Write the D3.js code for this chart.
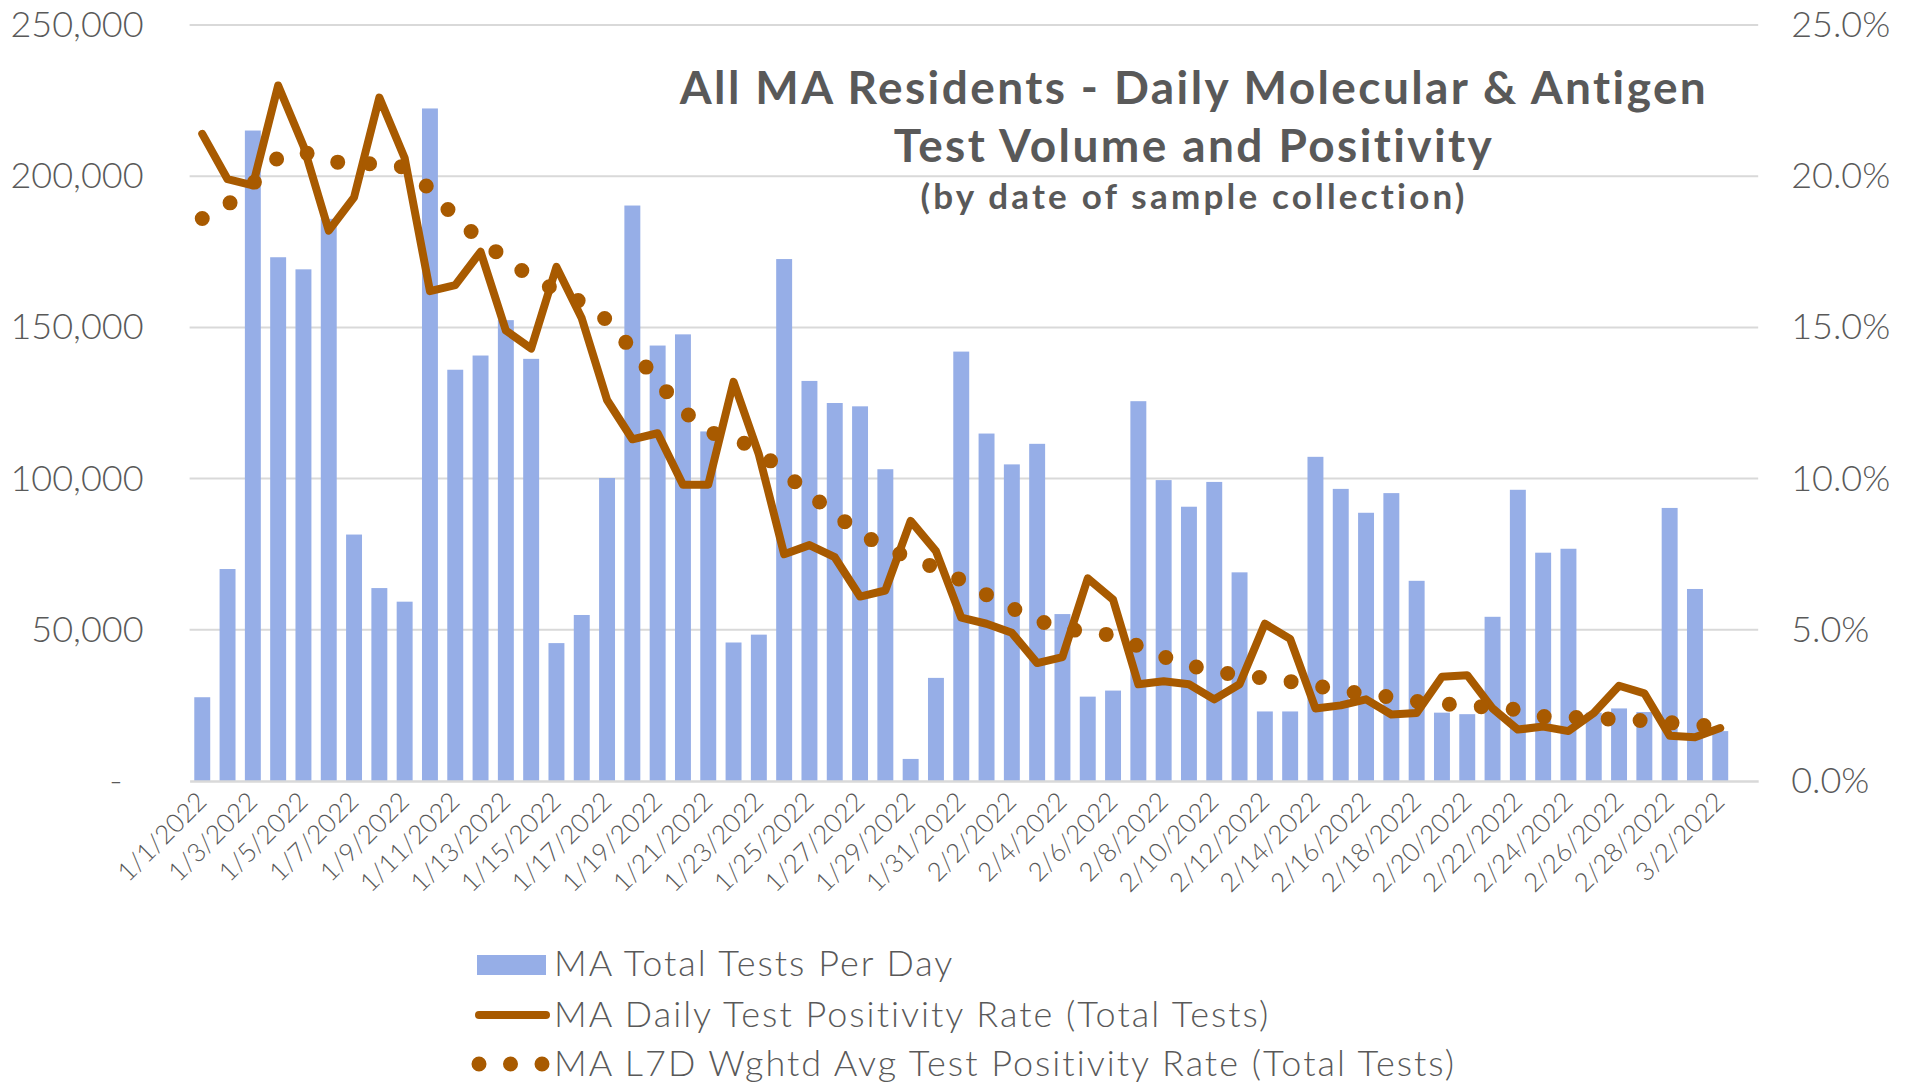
<!DOCTYPE html>
<html>
<head>
<meta charset="utf-8">
<script src="https://cdn.jsdelivr.net/npm/d3@7"></script>
<style>
  body { margin: 0; background: #fff; }
  svg { display: block; }
  text { font-family: Lato, "Open Sans", sans-serif; fill: #595959; }
</style>
</head>
<body>
<svg width="1915" height="1084"></svg>
<script>
const width = 1915
const height = 1084

// categories (the last day has no data, Excel leaves an empty slot for it)
const dates = [
  "1/1/2022", "1/2/2022", "1/3/2022", "1/4/2022", "1/5/2022", "1/6/2022", "1/7/2022", "1/8/2022",
  "1/9/2022", "1/10/2022", "1/11/2022", "1/12/2022", "1/13/2022", "1/14/2022", "1/15/2022", "1/16/2022",
  "1/17/2022", "1/18/2022", "1/19/2022", "1/20/2022", "1/21/2022", "1/22/2022", "1/23/2022", "1/24/2022",
  "1/25/2022", "1/26/2022", "1/27/2022", "1/28/2022", "1/29/2022", "1/30/2022", "1/31/2022",
  "2/1/2022", "2/2/2022", "2/3/2022", "2/4/2022", "2/5/2022", "2/6/2022", "2/7/2022", "2/8/2022",
  "2/9/2022", "2/10/2022", "2/11/2022", "2/12/2022", "2/13/2022", "2/14/2022", "2/15/2022", "2/16/2022",
  "2/17/2022", "2/18/2022", "2/19/2022", "2/20/2022", "2/21/2022", "2/22/2022", "2/23/2022", "2/24/2022",
  "2/25/2022", "2/26/2022", "2/27/2022", "2/28/2022", "3/1/2022", "3/2/2022", "3/3/2022"
]

// MA Total Tests Per Day
const testsPerDay = [
  27700, 70100, 215100, 173200, 169200, 185900, 81500, 63800, 59300, 222400,
  136000, 140700, 152400, 139600, 45600, 54900, 100200, 190300, 144000, 147700,
  115600, 45800, 48400, 172600, 132300, 125000, 123900, 103100, 7300, 34100,
  142000, 114900, 104700, 111500, 55200, 27900, 29900, 125600, 99500, 90700,
  98900, 69000, 23000, 23000, 107200, 96600, 88700, 95200, 66200, 22600,
  22100, 54300, 96300, 75500, 76800, 22600, 24000, 22800, 90300, 63500,
  16500
]

// MA Daily Test Positivity Rate (%)
const dailyPositivity = [
  21.4, 19.9, 19.7, 23.0, 21.0, 18.2, 19.3, 22.6, 20.6, 16.2,
  16.4, 17.5, 14.9, 14.3, 17.0, 15.3, 12.6, 11.3, 11.5, 9.8,
  9.8, 13.2, 10.8, 7.5, 7.8, 7.4, 6.1, 6.3, 8.6, 7.6,
  5.4, 5.2, 4.9, 3.9, 4.1, 6.7, 6.0, 3.2, 3.3, 3.2,
  2.7, 3.2, 5.2, 4.7, 2.4, 2.5, 2.7, 2.2, 2.25, 3.45,
  3.5, 2.4, 1.7, 1.8, 1.65, 2.25, 3.15, 2.9, 1.5, 1.45,
  1.75
]

// MA L7D Wghtd Avg Test Positivity Rate (%)
const l7dPositivity = [
  18.6, 19.05, 19.75, 20.62, 20.8, 20.5, 20.4, 20.42, 20.3, 19.57,
  18.63, 17.9, 17.25, 16.67, 16.22, 15.83, 15.24, 14.25, 13.21, 12.26,
  11.54, 11.34, 10.93, 10.19, 9.5, 8.82, 8.21, 7.7, 7.37, 7.05,
  6.64, 6.16, 5.72, 5.33, 5.0, 4.98, 4.8, 4.46, 4.11, 3.83,
  3.62, 3.5, 3.4, 3.29, 3.16, 2.98, 2.88, 2.77, 2.63, 2.56,
  2.48, 2.44, 2.36, 2.13, 2.11, 2.07, 2.04, 1.99, 1.93, 1.85,
  1.8
]

const leftTicks = [0, 50000, 100000, 150000, 200000, 250000]
const rightTicks = [0, 5, 10, 15, 20, 25]

const titleLines = ["All MA Residents - Daily Molecular & Antigen", "Test Volume and Positivity"]
const subtitle = "(by date of sample collection)"
const legendLabels = [
  "MA Total Tests Per Day",
  "MA Daily Test Positivity Rate (Total Tests)",
  "MA L7D Wghtd Avg Test Positivity Rate (Total Tests)"
]

const barColor = "#96aee7"
const lineColor = "#a85a00"
const gridColor = "#d9d9d9"

let plot = {left: 189.6, right: 1758.2, top: 25, bottom: 781}

let svg = d3.select("svg")

let x = d3.scaleBand()
  .domain(dates)
  .range([plot.left, plot.right])
  .paddingInner(0.37)
  .paddingOuter(0.185)

let yLeft = d3.scaleLinear().domain([0, 250000]).range([plot.bottom, plot.top])
let yRight = d3.scaleLinear().domain([0, 25]).range([plot.bottom, plot.top])

const cx = d => x(d) + x.bandwidth() / 2

// gridlines
svg.append("g")
  .selectAll("line")
  .data(leftTicks.slice(1))
  .enter()
  .append("line")
  .attr("x1", plot.left)
  .attr("x2", plot.right)
  .attr("y1", d => yLeft(d))
  .attr("y2", d => yLeft(d))
  .attr("stroke", gridColor)
  .attr("stroke-width", 2)

// left axis
let leftAxis = svg.append("g")
  .attr("transform", `translate(${plot.left},0)`)
  .call(d3.axisLeft(yLeft)
    .tickValues(leftTicks)
    .tickSize(0)
    .tickPadding(46)
    .tickFormat(d => d === 0 ? "-" : d3.format(",")(d)))
leftAxis.select(".domain").remove()
leftAxis.selectAll("text")
  .attr("font-size", "36px")
  .attr("font-weight", 300)
  .attr("dx", d => d === 0 ? -21 : 0)

// right axis
let rightAxis = svg.append("g")
  .attr("transform", `translate(${plot.right},0)`)
  .call(d3.axisRight(yRight)
    .tickValues(rightTicks)
    .tickSize(0)
    .tickPadding(33)
    .tickFormat(d => d.toFixed(1) + "%"))
rightAxis.select(".domain").remove()
rightAxis.selectAll("text")
  .attr("font-size", "36px")
  .attr("font-weight", 300)

// bars
svg.append("g")
  .selectAll("rect")
  .data(testsPerDay)
  .enter()
  .append("rect")
  .attr("x", (d, i) => x(dates[i]))
  .attr("y", d => yLeft(d))
  .attr("width", x.bandwidth())
  .attr("height", d => yLeft(0) - yLeft(d))
  .attr("fill", barColor)

// category axis
let bottomAxis = svg.append("g")
  .attr("transform", `translate(0,${plot.bottom})`)
  .call(d3.axisBottom(x)
    .tickValues(dates.filter((d, i) => i % 2 === 0 && i < testsPerDay.length))
    .tickSize(0)
    .tickSizeOuter(0))
bottomAxis.select(".domain")
  .attr("stroke", gridColor)
  .attr("stroke-width", 2.5)
bottomAxis.selectAll("text")
  .attr("font-size", "26px")
  .attr("font-weight", 300)
  .attr("text-anchor", "end")
  .attr("dy", 0)
  .attr("y", 0)
  .attr("transform", "translate(6,22) rotate(-45)")

// daily positivity line
let line = d3.line()
  .x((d, i) => cx(dates[i]))
  .y(d => yRight(d))

svg.append("path")
  .datum(dailyPositivity)
  .attr("d", line)
  .attr("fill", "none")
  .attr("stroke", lineColor)
  .attr("stroke-width", 8)
  .attr("stroke-linejoin", "round")
  .attr("stroke-linecap", "round")

// 7-day average, round dot dash
svg.append("path")
  .datum(l7dPositivity)
  .attr("d", line)
  .attr("fill", "none")
  .attr("stroke", lineColor)
  .attr("stroke-width", 15)
  .attr("stroke-linecap", "round")
  .attr("stroke-dasharray", "0 32")

// title
let title = svg.append("g")
titleLines.forEach((t, i) => {
  title.append("text")
    .attr("x", 1194)
    .attr("y", 104 + i * 58)
    .attr("text-anchor", "middle")
    .attr("font-size", "46px")
    .attr("font-weight", 700)
    .attr("letter-spacing", "2.4px")
    .text(t)
})
title.append("text")
  .attr("x", 1194)
  .attr("y", 209)
  .attr("text-anchor", "middle")
  .attr("font-size", "35px")
  .attr("font-weight", 700)
  .attr("letter-spacing", "3.2px")
  .text(subtitle)

// legend
let legend = svg.append("g")
let legendX = 477
let rowY = [976, 1027, 1076]

legend.append("rect")
  .attr("x", legendX)
  .attr("y", rowY[0] - 21)
  .attr("width", 69)
  .attr("height", 20)
  .attr("fill", barColor)

legend.append("line")
  .attr("x1", legendX + 2)
  .attr("x2", legendX + 69)
  .attr("y1", rowY[1] - 12)
  .attr("y2", rowY[1] - 12)
  .attr("stroke", lineColor)
  .attr("stroke-width", 8)
  .attr("stroke-linecap", "round")

legend.append("line")
  .attr("x1", legendX + 2)
  .attr("x2", legendX + 66)
  .attr("y1", rowY[2] - 12)
  .attr("y2", rowY[2] - 12)
  .attr("stroke", lineColor)
  .attr("stroke-width", 15)
  .attr("stroke-linecap", "round")
  .attr("stroke-dasharray", "0 31.5")

legendLabels.forEach((t, i) => {
  legend.append("text")
    .attr("x", legendX + 77)
    .attr("y", rowY[i])
    .attr("font-size", "36px")
    .attr("font-weight", 300)
    .attr("letter-spacing", "2px")
    .text(t)
})
</script>
</body>
</html>
